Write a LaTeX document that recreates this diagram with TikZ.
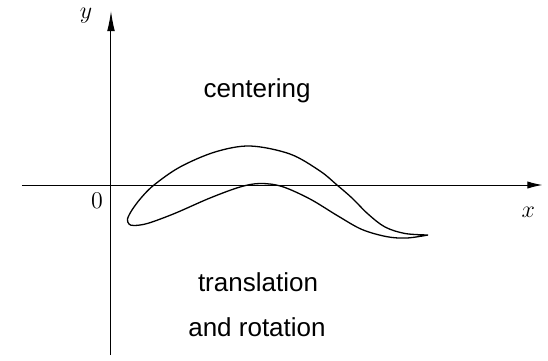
\documentclass[tikz,border=0pt]{standalone}
\usepackage{fontspec}
\setsansfont{Liberation Sans}
\usetikzlibrary{arrows.meta}
\begin{document}
\begin{tikzpicture}[x=0.5pt,y=-0.5pt,
  axis/.style={line width=0.5pt},
  curve/.style={line width=0.65pt, line join=round},
  lbl/.style={font=\sffamily\fontsize{13}{15}\selectfont, anchor=base, inner sep=0pt},
  mlbl/.style={font=\fontsize{12.5}{15}\selectfont, inner sep=0pt}]
\useasboundingbox (0,0) rectangle (548,360);
% axes
\coordinate (xs) at (22,185);
\coordinate (xe) at (542.5,185);
\coordinate (ys) at (111,355);
\coordinate (ye) at (111,11);
\draw[axis, -{Latex[length=7.5pt,width=3.6pt]}] (xs) -- (xe);
\draw[axis, -{Latex[length=10pt,width=3.8pt]}] (ys) -- (ye);
\node[mlbl] (xl) at (528.3,212.5) {$x$};
\node[mlbl] (yl) at (86,16) {$y$};
\node[mlbl] (ol) at (97,201) {$0$};
% closed curve
\draw[curve] plot[smooth, tension=0.55] coordinates {
 (428,235) (405,233.5) (385,227) (368,214) (352,198) (337,185) (320,171)
 (290,154) (250,146) (215,152) (180,167) (154,185) (141,198) (132,210)
 (127.5,219) (129,224) (134,225.5) (148,223.3) (175,213.3) (210,198)
 (240,187) (260,183.5) (282,186.5) (310,199) (338,216) (362,229.5)
 (387,236.7) (407,238) (428,235)};
% labels
\node[lbl] (c) at (257,97) {centering};
\node[lbl] (t) at (258,291.5) {translation};
\node[lbl] (r) at (257,336) {and rotation};
\end{tikzpicture}
\end{document}
